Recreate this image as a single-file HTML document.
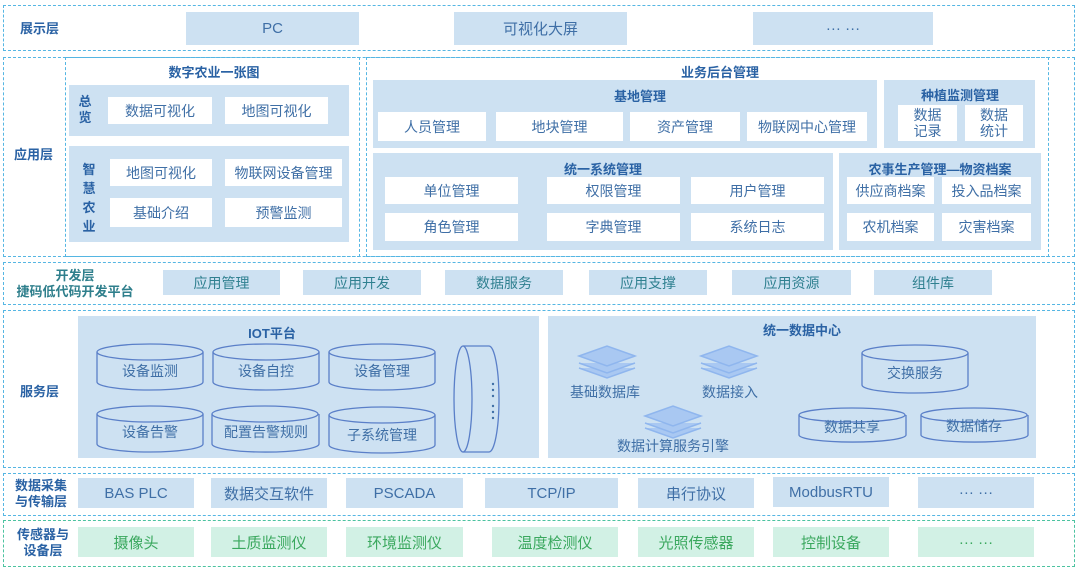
<!DOCTYPE html>
<html><head><meta charset="utf-8"><style>
*{margin:0;padding:0;box-sizing:border-box}
body{width:1080px;height:574px;background:#fff;position:relative;overflow:hidden;font-family:"Liberation Sans","Noto Sans CJK SC",sans-serif;}
.a{position:absolute}
.d{position:absolute;border:1.5px dashed #55b6e3}
.g{position:absolute;border:1.5px dashed #4cc3a0}
.b{position:absolute;background:#cde1f2}
.w{position:absolute;background:#fff;display:flex;align-items:center;justify-content:center;color:#3f6fa6;font-size:14px}
.i{position:absolute;background:#cde1f2;display:flex;align-items:center;justify-content:center;color:#3f6fa6;font-size:15px}
.t{position:absolute;background:#cde1f2;display:flex;align-items:center;justify-content:center;color:#2f8090;font-size:14px}
.n{position:absolute;background:#d2f1e5;display:flex;align-items:center;justify-content:center;color:#3aa85e;font-size:15px}
.L{position:absolute;color:#2a62a4;font-weight:bold;font-size:13px;text-align:center;line-height:16px}
.T{position:absolute;color:#2a62a4;font-weight:bold;font-size:13px;text-align:center;transform:translateX(-50%);white-space:nowrap}
</style></head><body>
<!-- 展示层 -->
<div class="d" style="left:3px;top:5px;width:1072px;height:46px"></div>
<div class="L" style="left:20px;top:21px">展示层</div>
<div class="i" style="left:186px;top:12px;width:173px;height:33px">PC</div>
<div class="i" style="left:454px;top:12px;width:173px;height:33px">可视化大屏</div>
<div class="i" style="left:753px;top:12px;width:180px;height:33px">··· ···</div>
<!-- 应用层 -->
<div class="d" style="left:3px;top:57px;width:1072px;height:200px"></div>
<div class="L" style="left:14px;top:147px">应用层</div>
<div class="d" style="left:65px;top:57px;width:295px;height:200px"></div>
<div class="T" style="left:214px;top:62px">数字农业一张图</div>
<div class="b" style="left:69px;top:85px;width:280px;height:51px"></div>
<div class="L" style="left:77px;top:94px;width:16px">总<br>览</div>
<div class="w" style="left:108px;top:97px;width:104px;height:27px">数据可视化</div>
<div class="w" style="left:225px;top:97px;width:103px;height:27px">地图可视化</div>
<div class="b" style="left:69px;top:146px;width:280px;height:96px"></div>
<div class="L" style="left:81px;top:160px;width:16px;line-height:19px">智<br>慧<br>农<br>业</div>
<div class="w" style="left:110px;top:159px;width:102px;height:27px">地图可视化</div>
<div class="w" style="left:225px;top:159px;width:117px;height:27px">物联网设备管理</div>
<div class="w" style="left:110px;top:198px;width:102px;height:29px">基础介绍</div>
<div class="w" style="left:225px;top:198px;width:117px;height:29px">预警监测</div>

<div class="d" style="left:366px;top:57px;width:683px;height:200px"></div>
<div class="T" style="left:720px;top:62px">业务后台管理</div>
<div class="b" style="left:373px;top:80px;width:504px;height:68px"></div>
<div class="T" style="left:640px;top:86px">基地管理</div>
<div class="w" style="left:378px;top:112px;width:108px;height:29px">人员管理</div>
<div class="w" style="left:496px;top:112px;width:127px;height:29px">地块管理</div>
<div class="w" style="left:630px;top:112px;width:110px;height:29px">资产管理</div>
<div class="w" style="left:747px;top:112px;width:120px;height:29px">物联网中心管理</div>
<div class="b" style="left:884px;top:80px;width:151px;height:68px"></div>
<div class="T" style="left:960px;top:85px">种植监测管理</div>
<div class="w" style="left:898px;top:105px;width:59px;height:36px;line-height:16px;text-align:center">数据<br>记录</div>
<div class="w" style="left:965px;top:105px;width:58px;height:36px;line-height:16px;text-align:center">数据<br>统计</div>
<div class="b" style="left:373px;top:153px;width:460px;height:97px"></div>
<div class="T" style="left:603px;top:159px">统一系统管理</div>
<div class="w" style="left:385px;top:177px;width:133px;height:27px">单位管理</div>
<div class="w" style="left:547px;top:177px;width:133px;height:27px">权限管理</div>
<div class="w" style="left:691px;top:177px;width:133px;height:27px">用户管理</div>
<div class="w" style="left:385px;top:213px;width:133px;height:28px">角色管理</div>
<div class="w" style="left:547px;top:213px;width:133px;height:28px">字典管理</div>
<div class="w" style="left:691px;top:213px;width:133px;height:28px">系统日志</div>
<div class="b" style="left:839px;top:153px;width:202px;height:97px"></div>
<div class="T" style="left:940px;top:159px">农事生产管理—物资档案</div>
<div class="w" style="left:847px;top:177px;width:87px;height:27px">供应商档案</div>
<div class="w" style="left:942px;top:177px;width:89px;height:27px">投入品档案</div>
<div class="w" style="left:847px;top:213px;width:87px;height:28px">农机档案</div>
<div class="w" style="left:942px;top:213px;width:89px;height:28px">灾害档案</div>
<!-- 开发层 -->
<div class="d" style="left:3px;top:262px;width:1072px;height:43px"></div>
<div class="L" style="left:8px;top:268px;width:134px;color:#2f7f8c">开发层<br>捷码低代码开发平台</div>
<div class="t" style="left:163px;top:270px;width:117px;height:25px">应用管理</div>
<div class="t" style="left:303px;top:270px;width:118px;height:25px">应用开发</div>
<div class="t" style="left:445px;top:270px;width:118px;height:25px">数据服务</div>
<div class="t" style="left:589px;top:270px;width:118px;height:25px">应用支撑</div>
<div class="t" style="left:732px;top:270px;width:119px;height:25px">应用资源</div>
<div class="t" style="left:874px;top:270px;width:118px;height:25px">组件库</div>
<!-- 服务层 -->
<div class="d" style="left:3px;top:310px;width:1072px;height:158px"></div>
<div class="L" style="left:20px;top:384px">服务层</div>
<div class="b" style="left:78px;top:316px;width:461px;height:142px"></div>
<div class="T" style="left:272px;top:323px">IOT平台</div>
<div class="b" style="left:548px;top:316px;width:488px;height:142px"></div>
<div class="T" style="left:802px;top:320px">统一数据中心</div>
<svg class="a" style="left:0;top:0" width="1080" height="574">
<g fill="#cde1f2" stroke="#5a7fc8" stroke-width="1.3">
<path d="M97 352 v30 a53 8 0 0 0 106 0 v-30"/><ellipse cx="150" cy="352" rx="53" ry="8"/>
<path d="M213 352 v30 a53 8 0 0 0 106 0 v-30"/><ellipse cx="266" cy="352" rx="53" ry="8"/>
<path d="M329 352 v30 a53 8 0 0 0 106 0 v-30"/><ellipse cx="382" cy="352" rx="53" ry="8"/>
<path d="M97 414 v30 a53 8 0 0 0 106 0 v-30"/><ellipse cx="150" cy="414" rx="53" ry="8"/>
<path d="M212 414 v30 a53 8 0 0 0 107 0 v-30"/><ellipse cx="265" cy="414" rx="53" ry="8"/>
<path d="M329 415 v30 a53 8 0 0 0 106 0 v-30"/><ellipse cx="382" cy="415" rx="53" ry="8"/>
<path d="M463 346 h26 a10 53 0 0 1 0 106 h-26"/><ellipse cx="463" cy="399" rx="9" ry="53"/>
<path d="M862 353 v32 a53 8 0 0 0 106 0 v-32"/><ellipse cx="915" cy="353" rx="53" ry="8"/>
<path d="M799 415 v20 a53 7 0 0 0 107 0 v-20"/><ellipse cx="852" cy="415" rx="53" ry="7"/>
<path d="M921 415 v20 a53 7 0 0 0 107 0 v-20"/><ellipse cx="974" cy="415" rx="53" ry="7"/>
</g>
<g fill="#3f6fa6"><circle cx="493" cy="384" r="1.2"/><circle cx="493" cy="390" r="1.2"/><circle cx="493" cy="396" r="1.2"/><circle cx="493" cy="406" r="1.2"/><circle cx="493" cy="412" r="1.2"/><circle cx="493" cy="418" r="1.2"/></g>
<g fill="#a9c8f2" stroke="#8fb6ee" stroke-width="1.5">
<g transform="translate(607,360)"><path d="M-28 8 L0 18 L28 8"/><path d="M-28 3 L0 13 L28 3"/><path d="M-28 -4 L0 -14 L28 -4 L0 6Z"/></g>
<g transform="translate(729,360)"><path d="M-28 8 L0 18 L28 8"/><path d="M-28 3 L0 13 L28 3"/><path d="M-28 -4 L0 -14 L28 -4 L0 6Z"/></g>
<g transform="translate(673,420)"><path d="M-28 8 L0 18 L28 8"/><path d="M-28 3 L0 13 L28 3"/><path d="M-28 -4 L0 -14 L28 -4 L0 6Z"/></g>
</g>
<g fill="#3f6fa6" font-size="14" text-anchor="middle" font-family="Liberation Sans,Noto Sans CJK SC,sans-serif">
<text x="150" y="376">设备监测</text><text x="266" y="376">设备自控</text><text x="382" y="376">设备管理</text>
<text x="150" y="437">设备告警</text><text x="266" y="437">配置告警规则</text><text x="382" y="440">子系统管理</text>
<text x="915" y="378">交换服务</text><text x="852" y="432">数据共享</text><text x="974" y="431">数据储存</text>
<text x="605" y="397">基础数据库</text><text x="730" y="397">数据接入</text><text x="673" y="451">数据计算服务引擎</text>
</g>
</svg>
<!-- 数据采集 -->
<div class="d" style="left:3px;top:473px;width:1072px;height:43px"></div>
<div class="L" style="left:10px;top:478px;width:62px">数据采集<br>与传输层</div>
<div class="i" style="left:78px;top:478px;width:116px;height:30px">BAS PLC</div>
<div class="i" style="left:211px;top:478px;width:116px;height:30px">数据交互软件</div>
<div class="i" style="left:346px;top:478px;width:117px;height:30px">PSCADA</div>
<div class="i" style="left:485px;top:478px;width:133px;height:30px">TCP/IP</div>
<div class="i" style="left:638px;top:478px;width:116px;height:30px">串行协议</div>
<div class="i" style="left:773px;top:477px;width:116px;height:30px">ModbusRTU</div>
<div class="i" style="left:918px;top:477px;width:116px;height:31px">··· ···</div>
<!-- 传感器 -->
<div class="g" style="left:3px;top:520px;width:1072px;height:47px"></div>
<div class="L" style="left:12px;top:527px;width:62px">传感器与<br>设备层</div>
<div class="n" style="left:78px;top:527px;width:116px;height:30px">摄像头</div>
<div class="n" style="left:211px;top:527px;width:116px;height:30px">土质监测仪</div>
<div class="n" style="left:346px;top:527px;width:117px;height:30px">环境监测仪</div>
<div class="n" style="left:492px;top:527px;width:126px;height:30px">温度检测仪</div>
<div class="n" style="left:638px;top:527px;width:116px;height:30px">光照传感器</div>
<div class="n" style="left:773px;top:527px;width:116px;height:30px">控制设备</div>
<div class="n" style="left:918px;top:527px;width:116px;height:30px">··· ···</div>
</body></html>
